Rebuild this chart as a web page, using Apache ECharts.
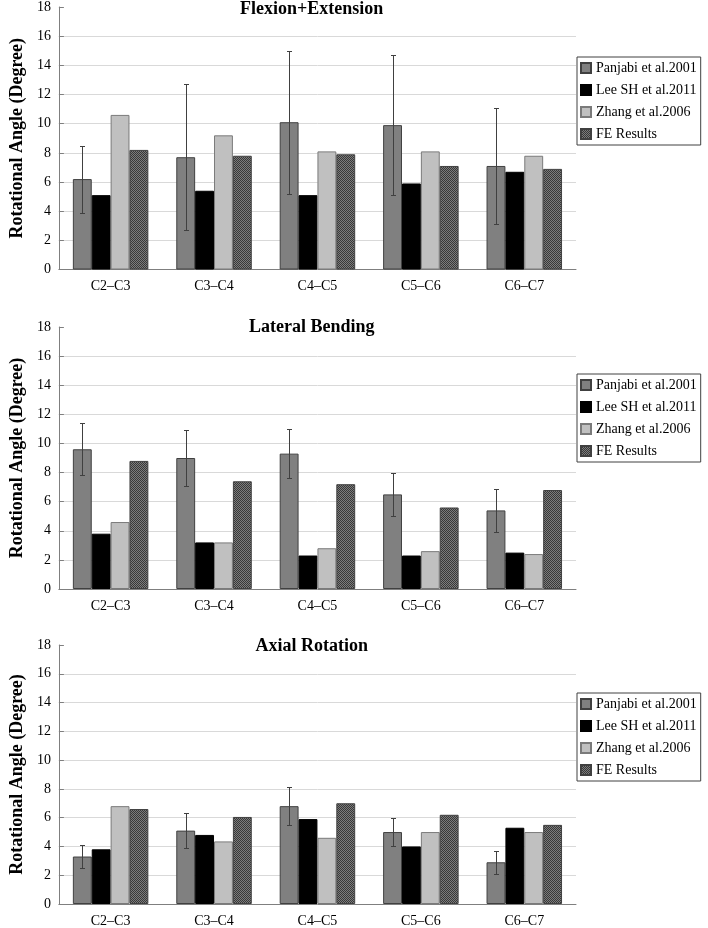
<!DOCTYPE html>
<html><head><meta charset="utf-8">
<script src="https://cdn.jsdelivr.net/npm/echarts@6/dist/echarts.min.js"></script>
<style>html,body{margin:0;padding:0;background:#fff}#c{width:708px;height:928px}</style>
</head><body><div id="c"></div>
<script>
// ---------------- data ----------------
const categories = ['C2–C3', 'C3–C4', 'C4–C5', 'C5–C6', 'C6–C7'];
const seriesNames = ['Panjabi et al.2001', 'Lee SH et al.2011', 'Zhang et al.2006', 'FE Results'];
const panelTitles = ['Flexion+Extension', 'Lateral Bending', 'Axial Rotation'];
const yAxisName = 'Rotational Angle (Degree)';
const yMin = 0, yMax = 18, yInterval = 2;

// Flexion+Extension
const fePanjabi = [6.2, 7.7, 10.1, 9.9, 7.1];
const feLee = [5.1, 5.4, 5.1, 5.9, 6.7];
const feZhang = [10.6, 9.2, 8.1, 8.1, 7.8];
const feResults = [8.2, 7.8, 7.9, 7.1, 6.9];
const fePanjabiLow = [3.9, 2.7, 5.2, 5.1, 3.1];
const fePanjabiHigh = [8.5, 12.7, 15.0, 14.7, 11.1];

// Lateral Bending
const lbPanjabi = [9.6, 9.0, 9.3, 6.5, 5.4];
const lbLee = [3.8, 3.2, 2.3, 2.3, 2.5];
const lbZhang = [4.6, 3.2, 2.8, 2.6, 2.4];
const lbResults = [8.8, 7.4, 7.2, 5.6, 6.8];
const lbPanjabiLow = [7.8, 7.1, 7.6, 5.0, 3.9];
const lbPanjabiHigh = [11.4, 10.9, 11.0, 8.0, 6.9];

// Axial Rotation
const arPanjabi = [3.3, 5.1, 6.8, 5.0, 2.9];
const arLee = [3.8, 4.8, 5.9, 4.0, 5.3];
const arZhang = [6.8, 4.35, 4.6, 5.0, 5.0];
const arResults = [6.6, 6.05, 7.0, 6.2, 5.5];
const arPanjabiLow = [2.5, 3.9, 5.5, 4.0, 2.1];
const arPanjabiHigh = [4.1, 6.3, 8.1, 6.0, 3.7];

// ---------------- layout / style ----------------
const FONT = '"Liberation Serif", "Times New Roman", serif';
const GAP = 0.27;
const gridLeft = 47.5, gridRight = 132;
const panels = [
  { top: 6.5, height: 263, titleTop: -1, legendTop: 57,
    bars: [fePanjabi, feLee, feZhang, feResults], low: fePanjabiLow, high: fePanjabiHigh },
  { top: 327, height: 262, titleTop: 317.5, legendTop: 374,
    bars: [lbPanjabi, lbLee, lbZhang, lbResults], low: lbPanjabiLow, high: lbPanjabiHigh },
  { top: 645, height: 263, titleTop: 636, legendTop: 693,
    bars: [arPanjabi, arLee, arZhang, arResults], low: arPanjabiLow, high: arPanjabiHigh }
];

// checker pattern for FE Results
const pat = document.createElement('canvas');
pat.width = 2; pat.height = 2;
const pctx = pat.getContext('2d');
pctx.fillStyle = '#7c7c7c'; pctx.fillRect(0, 0, 2, 2);
pctx.fillStyle = '#383838'; pctx.fillRect(0, 0, 1, 1); pctx.fillRect(1, 1, 1, 1);

const barStyles = [
  { color: '#808080', borderColor: '#404040', borderWidth: 1 },
  { color: '#000000', borderColor: '#000000', borderWidth: 1 },
  { color: '#c0c0c0', borderColor: '#7a7a7a', borderWidth: 1 },
  { color: { image: pat, repeat: 'repeat' }, borderColor: '#404040', borderWidth: 1 }
];

const gridColors = [];
for (let v = yMin; v <= yMax; v += yInterval) gridColors.push(v === yMax || v === yMin ? 'rgba(0,0,0,0)' : '#d9d9d9');

function errRender(params, api) {
  const xi = api.value(0), lo = api.value(1), hi = api.value(2);
  const pHi = api.coord([xi, hi]);
  const pLo = api.coord([xi, lo]);
  const band = api.size([1, 0])[0];
  const bw = band * (1 - GAP) / 4;
  const cx = Math.round(pHi[0] - 1.5 * bw) + 0.5;
  const y1 = Math.round(pHi[1]) + 0.5, y2 = Math.round(pLo[1]) + 0.5;
  const cap = 2.5;
  const st = { stroke: '#404040', lineWidth: 1 };
  return { type: 'group', children: [
    { type: 'line', shape: { x1: cx, y1: y1, x2: cx, y2: y2 }, style: st },
    { type: 'line', shape: { x1: cx - cap, y1: y1, x2: cx + cap, y2: y1 }, style: st },
    { type: 'line', shape: { x1: cx - cap, y1: y2, x2: cx + cap, y2: y2 }, style: st }
  ]};
}

const option = { animation: false, backgroundColor: '#ffffff',
  textStyle: { fontFamily: FONT },
  title: [], legend: [], grid: [], xAxis: [], yAxis: [], series: [] };

panels.forEach((p, i) => {
  option.title.push({ text: panelTitles[i], left: gridLeft + (708 - gridRight - gridLeft) / 2, textAlign: 'center',
    top: p.titleTop, padding: 0,
    textStyle: { fontFamily: FONT, fontSize: 18, fontWeight: 'bold', color: '#000', lineHeight: 20 } });
  option.legend.push({ data: seriesNames.slice(), orient: 'vertical', left: 577, top: p.legendTop,
    padding: [4, 4, 4, 3], itemGap: 8, itemWidth: 10, itemHeight: 10, icon: 'rect',
    borderColor: '#404040', borderWidth: 1, backgroundColor: '#fff', selectedMode: false,
    textStyle: { fontFamily: FONT, fontSize: 14, color: '#000', lineHeight: 14 } });
  option.grid.push({ left: gridLeft, right: gridRight, top: p.top, height: p.height, containLabel: false });
  option.xAxis.push({ type: 'category', gridIndex: i, data: categories,
    axisLine: { lineStyle: { color: '#7f7f7f', width: 1 } },
    axisTick: { inside: true, length: 5, lineStyle: { color: '#7f7f7f' } },
    axisLabel: { fontFamily: FONT, fontSize: 14, color: '#000', margin: 10 } });
  option.yAxis.push({ type: 'value', gridIndex: i, min: yMin, max: yMax, interval: yInterval,
    name: yAxisName, nameLocation: 'middle', nameGap: 30, nameRotate: 90,
    nameTextStyle: { fontFamily: FONT, fontSize: 18, fontWeight: 'bold', color: '#000' },
    axisLine: { show: true, lineStyle: { color: '#7f7f7f', width: 1 } },
    axisTick: { show: true, inside: true, length: 5, lineStyle: { color: '#7f7f7f' } },
    axisLabel: { fontFamily: FONT, fontSize: 14, color: '#000', margin: 8 },
    splitLine: { show: true, lineStyle: { color: gridColors, width: 1 } } });
  seriesNames.forEach((name, k) => {
    option.series.push({ type: 'bar', name: name, xAxisIndex: i, yAxisIndex: i, data: p.bars[k],
      barGap: '0%', barCategoryGap: (GAP * 100) + '%', itemStyle: barStyles[k] });
  });
  option.series.push({ type: 'custom', name: 'err' + i, xAxisIndex: i, yAxisIndex: i, z: 10,
    renderItem: errRender, encode: { x: 0, y: [1, 2] },
    data: categories.map((c, j) => [j, p.low[j], p.high[j]]) });
});

const chart = echarts.init(document.getElementById('c'), null, { renderer: 'canvas' });
chart.setOption(option);
</script>
</body></html>
